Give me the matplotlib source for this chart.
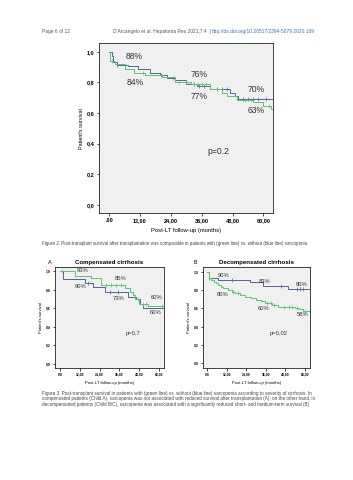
import matplotlib
matplotlib.use("Agg")
import matplotlib.pyplot as plt
import numpy as np

# ---- data ----
# Figure 2: whole cohort
all_blue_t = [0, 1, 1.5, 3, 7.5, 11.4, 16, 19.8, 22.4, 25.7, 30, 34, 39.3, 47, 49, 50.3, 63.6]
all_blue_s = [1.0, 0.97, 0.935, 0.913, 0.905, 0.89, 0.86, 0.848, 0.826, 0.815, 0.79, 0.775, 0.755, 0.73, 0.71, 0.688, 0.688]
all_green_t = [0, 0.5, 2.3, 6.2, 9.5, 14, 20.5, 25.7, 32, 39.3, 43.8, 45.7, 49.9, 56, 60, 62.8, 63.6]
all_green_s = [1.0, 0.94, 0.92, 0.89, 0.86, 0.848, 0.837, 0.80, 0.787, 0.755, 0.73, 0.71, 0.685, 0.67, 0.645, 0.625, 0.625]
all_blue_cens = [3, 20, 25, 33, 35, 37, 42, 44, 46, 52, 54, 56, 58, 61]
all_green_cens = [1, 13, 27, 30, 33, 34.5, 36, 37.5, 53, 55, 62]

# Figure 3A: compensated
comp_blue_t = [0, 2, 15, 20, 27, 41, 46, 48.5, 50, 63]
comp_blue_s = [1.0, 0.91, 0.87, 0.83, 0.77, 0.72, 0.70, 0.65, 0.60, 0.60]
comp_green_t = [0, 9, 18.6, 24.6, 39.4, 42.4, 44, 45.4, 48, 53.5, 63]
comp_green_s = [1.0, 0.95, 0.92, 0.85, 0.82, 0.77, 0.74, 0.70, 0.65, 0.62, 0.62]
comp_blue_cens = [17, 30, 35]
comp_green_cens = [1, 28, 31, 34, 37, 47, 50, 52, 62]

# Figure 3B: decompensated
dec_blue_t = [0, 1, 6.7, 26, 34.5, 49.6, 63]
dec_blue_s = [1.0, 0.935, 0.91, 0.89, 0.85, 0.81, 0.81]
dec_green_t = [0, 1, 2.7, 4, 5.7, 7, 8.8, 10, 12.9, 15, 17, 20, 23, 27, 30.2, 33, 35.3, 40, 43.5, 48, 53.7, 56, 58.8, 63]
dec_green_s = [1.0, 0.93, 0.91, 0.89, 0.875, 0.86, 0.84, 0.82, 0.80, 0.78, 0.767, 0.75, 0.73, 0.71, 0.696, 0.68, 0.66, 0.64, 0.62, 0.61, 0.60, 0.59, 0.575, 0.56]
dec_blue_cens = [1, 15, 45, 55, 57, 59]
dec_green_cens = [16, 19, 37, 39, 41, 47, 50, 52, 55, 60]

xticks = [0, 12, 24, 36, 48, 60]
xticklabels = [".00", "12,00", "24,00", "36,00", "48,00", "60,00"]
yticks = [0, 0.2, 0.4, 0.6, 0.8, 1.0]
yticklabels = ["0,0", "0,2", "0,4", "0,6", "0,8", "1,0"]

BLUE = "#55639f"
GREEN = "#5cc46a"
W, H = 353, 480


def surv_at(t, s, x):
    i = np.searchsorted(t, x, side="right") - 1
    return np.asarray(s)[i]


def km_panel(rect, xlim, ylim, curves, labels, tick_fs, lab_fs, ann_fs):
    l, t, r, b = rect
    ax = fig.add_axes([l / W, 1 - b / H, (r - l) / W, (b - t) / H])
    ax.set_facecolor("#f0f0f0")
    for tt, ss, cens, col in curves:
        ax.step(tt, ss, where="post", color=col, lw=0.7)
        ax.plot(cens, surv_at(tt, ss, cens), ls="none", marker="|", ms=2.2, mew=0.5, color=col)
    for x, y, txt in labels:
        ax.text(x, y, txt, fontsize=ann_fs, color="#333333", ha="center", va="center",
                family="Liberation Sans")
    ax.set_xlim(xlim)
    ax.set_ylim(ylim)
    ax.set_xticks(xticks, labels=xticklabels)
    ax.set_yticks(yticks, labels=yticklabels)
    ax.tick_params(labelsize=tick_fs, length=1.8, width=0.5, pad=1.5)
    for lab in ax.get_xticklabels() + ax.get_yticklabels():
        lab.set_fontweight("bold")
    for sp in ax.spines.values():
        sp.set_linewidth(0.6)
        sp.set_color("#222222")
    ax.set_ylabel("Patient's survival", fontsize=lab_fs, labelpad=2)
    ax.set_xlabel("Post-LT follow-up (months)", fontsize=lab_fs, labelpad=3)
    return ax


fig = plt.figure(figsize=(W / 100, H / 100), dpi=100)
plt.rcParams["font.family"] = ["Liberation Sans", "DejaVu Sans"]

# header
fig.text(42 / W, 1 - 32 / H, "Page 6 of 12", fontsize=3.5, color="#555555", va="center")
fig.text(113 / W, 1 - 32 / H, "D'Arcangelo et al. Hepatoma Res 2021;7:4  |", fontsize=3.5,
         color="#555555", va="center")
fig.text(212 / W, 1 - 32 / H, "http://dx.doi.org/10.20517/2394-5079.2020.109", fontsize=3.5,
         color="#3b6fc4", va="center")

# Figure 2 chart
ax1 = km_panel((99.3, 43.3, 272.7, 213.3), (-3.8, 63.6), (-0.056, 1.055),
               [(all_blue_t, all_blue_s, all_blue_cens, BLUE),
                (all_green_t, all_green_s, all_green_cens, GREEN)],
               [(9.7, 0.972, "88%"), (10.1, 0.80, "84%"), (35.1, 0.854, "76%"),
                (35.1, 0.706, "77%"), (57, 0.754, "70%"), (57.2, 0.614, "63%"),
                (42.5, 0.346, "p=0.2")],
               4.0, 3.9, 6.2)
ax1.xaxis.label.set_fontsize(4.2)
ax1.xaxis.labelpad = 4

fig.text(42 / W, 1 - 243 / H,
         "Figure 2. Post-transplant survival after transplantation was comparable in patients with (green line) vs. without (blue line) sarcopenia",
         fontsize=3.25, color="#444444", va="center")

# Figure 3 panels
ax2 = km_panel((55, 267, 164, 368), (-3.0, 63.0), (-0.043, 1.043),
               [(comp_blue_t, comp_blue_s, comp_blue_cens, BLUE),
                (comp_green_t, comp_green_s, comp_green_cens, GREEN)],
               [(13.5, 1.0, "93%"), (36.8, 0.917, "85%"), (12.7, 0.83, "90%"),
                (35.8, 0.706, "73%"), (58.6, 0.717, "60%"), (58.2, 0.556, "60%"),
                (44.4, 0.33, "p=0.7")],
               2.4, 3.0, 4.2)
ax2.set_title("Compensated cirrhosis", fontsize=4.4, fontweight="bold", pad=2.5)
fig.text(48 / W, 1 - 263 / H, "A", fontsize=3.8, va="center")

ax3 = km_panel((203, 267, 310, 368), (-2.45, 63.0), (-0.055, 1.055),
               [(dec_blue_t, dec_blue_s, dec_blue_cens, BLUE),
                (dec_green_t, dec_green_s, dec_green_cens, GREEN)],
               [(10, 0.96, "90%"), (35, 0.894, "83%"), (57.7, 0.865, "80%"),
                (9.6, 0.758, "80%"), (34.5, 0.60, "60%"), (58.8, 0.53, "58%"),
                (43.7, 0.32, "p=0.02")],
               2.4, 3.0, 4.2)
ax3.set_title("Decompensated cirrhosis", fontsize=4.4, fontweight="bold", pad=2.5)
fig.text(194 / W, 1 - 263 / H, "B", fontsize=3.8, va="center")

cap3 = ["Figure 3. Post-transplant survival in patients with (green line) vs. without (blue line) sarcopenia according to severity of cirrhosis. In",
        "compensated patients (Child A), sarcopenia was not associated with reduced survival after transplantation (A); on the other hand, in",
        "decompensated patients (Child B/C), sarcopenia was associated with a significantly reduced short- and medium-term survival (B)"]
for i, line in enumerate(cap3):
    fig.text(42 / W, 1 - (393 + 5.6 * i) / H, line, fontsize=3.35, color="#444444", va="center")

fig.savefig("out.png", dpi=100, facecolor="white")
